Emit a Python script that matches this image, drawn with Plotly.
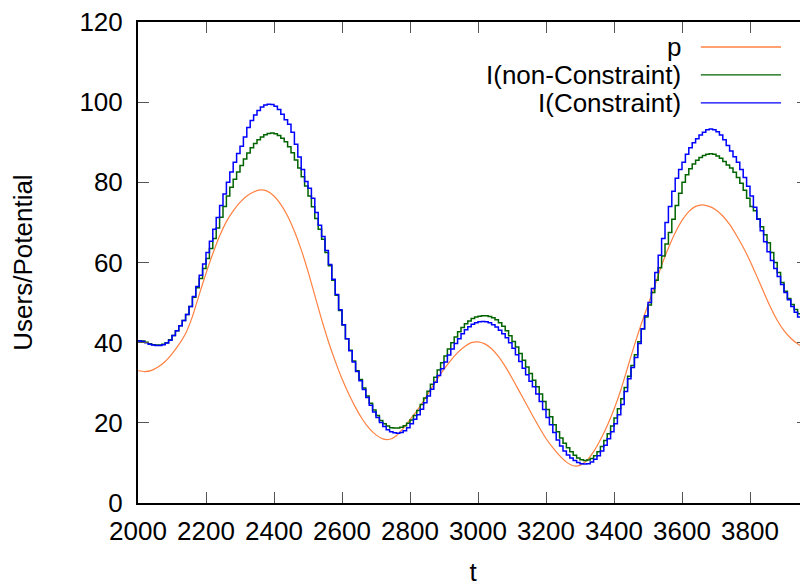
import plotly.graph_objects as go

# ---- data ----
p_t = list(range(2000, 4000, 20))
p_vals = [33.0, 32.8, 33.1, 34.0, 35.3, 37.2, 39.5, 42.3, 46.5, 52.0,
          57.3, 62.2, 66.6, 70.2, 72.9, 75.0, 76.6, 77.6, 78.1, 77.8,
          76.6, 74.5, 71.6, 67.8, 63.2, 57.8, 51.8, 45.8, 40.3, 35.4,
          31.0, 27.2, 23.8, 20.9, 18.6, 17.0, 16.0, 15.9, 16.8, 18.6,
          20.8, 23.0, 25.5, 28.2, 30.9, 33.4, 35.6, 37.5, 39.0, 40.0,
          40.2, 39.7, 38.5, 36.6, 34.1, 31.2, 28.1, 25.0, 21.9, 18.9,
          16.1, 13.8, 11.8, 10.2, 9.3, 9.4, 10.6, 12.8, 15.8, 19.3,
          23.4, 28.2, 33.8, 39.4, 44.6, 49.4, 54.2, 59.3, 63.6, 67.4,
          70.5, 72.7, 74.0, 74.4, 74.0, 73.1, 71.6, 69.5, 66.8, 63.8,
          60.4, 56.6, 52.7, 48.9, 45.6, 43.0, 41.1, 39.7, 38.8, 38.4]

i_t = list(range(2000, 3980, 10))
i_nc = [40.5, 40.4, 40.1, 39.7, 39.5, 39.4, 39.4, 39.6, 40.0, 40.7,
        41.8, 43.0, 44.2, 45.5, 47.0, 49.0, 51.3, 53.7, 56.0, 58.5,
        61.0, 63.5, 66.0, 68.6, 71.3, 74.0, 76.6, 78.8, 80.8, 82.6,
        84.2, 85.8, 87.3, 88.6, 89.7, 90.6, 91.3, 91.9, 92.2, 92.3,
        92.1, 91.7, 91.0, 90.1, 88.9, 87.4, 85.6, 83.6, 81.4, 79.1,
        76.6, 73.9, 71.0, 68.3, 65.8, 62.5, 59.2, 55.6, 51.8, 48.0,
        44.4, 41.0, 38.1, 35.4, 33.0, 30.8, 28.7, 26.7, 24.9, 23.2,
        21.8, 20.6, 19.8, 19.2, 18.8, 18.7, 18.7, 18.9, 19.3, 19.9,
        20.7, 21.8, 23.1, 24.6, 26.2, 27.9, 29.6, 31.4, 33.2, 35.0,
        36.7, 38.4, 40.0, 41.4, 42.7, 43.8, 44.7, 45.4, 46.0, 46.4,
        46.6, 46.7, 46.7, 46.5, 46.2, 45.7, 45.0, 44.1, 43.0, 41.7,
        40.3, 38.9, 37.3, 35.6, 33.9, 32.3, 30.6, 29.0, 27.2, 25.3,
        23.3, 21.5, 19.5, 17.8, 16.2, 14.9, 13.8, 12.8, 11.9, 11.2,
        10.8, 10.6, 10.7, 11.1, 11.8, 12.8, 14.1, 15.6, 17.3, 19.2,
        21.2, 23.5, 26.0, 28.8, 31.6, 34.3, 37.0, 40.2, 43.4, 46.4,
        49.4, 52.5, 55.6, 58.7, 61.6, 64.6, 67.5, 70.8, 74.2, 77.3,
        80.0, 81.9, 83.4, 84.6, 85.5, 86.2, 86.7, 87.0, 87.1, 87.0,
        86.6, 86.0, 85.2, 84.3, 83.6, 82.5, 81.2, 79.8, 78.0, 76.0,
        74.0, 72.9, 70.9, 68.9, 66.9, 64.9, 62.5, 60.0, 57.5, 55.0,
        52.8, 51.0, 49.5, 48.3, 47.2, 46.3, 45.6, 45.0]
i_c = [40.4, 40.3, 40.0, 39.6, 39.4, 39.3, 39.3, 39.5, 39.9, 40.6,
       41.8, 43.0, 44.2, 45.5, 47.0, 49.0, 51.5, 54.0, 56.8, 59.6,
       62.5, 65.3, 68.3, 71.2, 74.2, 77.1, 80.0, 82.6, 85.0, 87.2,
       89.0, 91.3, 93.7, 95.4, 96.8, 97.9, 98.8, 99.3, 99.5, 99.4,
       99.0, 98.2, 97.0, 95.6, 94.5, 92.5, 89.5, 86.3, 83.2, 80.2,
       78.5, 76.0, 72.5, 69.3, 66.5, 63.0, 59.5, 55.8, 52.0, 48.2,
       44.5, 41.0, 38.0, 35.2, 32.8, 30.5, 28.3, 26.3, 24.4, 22.7,
       21.3, 20.1, 19.1, 18.3, 17.8, 17.5, 17.4, 17.6, 18.0, 18.8,
       19.8, 20.9, 22.0, 23.4, 25.0, 26.7, 28.4, 30.1, 31.8, 33.5,
       35.2, 36.9, 38.4, 39.8, 41.0, 42.2, 43.2, 44.0, 44.6, 45.0,
       45.2, 45.3, 45.2, 45.0, 44.5, 43.9, 43.1, 42.2, 41.2, 40.0,
       38.6, 37.0, 35.3, 33.6, 32.0, 30.4, 29.0, 27.2, 25.3, 23.3,
       21.3, 19.5, 17.6, 15.7, 14.2, 13.0, 12.0, 11.2, 10.6, 10.1,
       9.8, 9.7, 9.8, 10.2, 10.9, 11.8, 13.0, 14.4, 16.0, 17.8,
       19.8, 22.0, 24.6, 27.8, 31.0, 33.8, 36.3, 39.8, 43.5, 46.7,
       50.0, 53.5, 57.5, 61.8, 66.0, 70.0, 74.0, 77.8, 81.0, 83.2,
       85.0, 87.0, 88.6, 89.9, 90.9, 91.8, 92.5, 93.1, 93.3, 93.1,
       92.6, 91.8, 90.6, 89.2, 87.8, 86.4, 85.0, 83.2, 81.2, 79.0,
       76.6, 73.8, 70.8, 67.9, 65.2, 62.7, 60.5, 58.5, 56.5, 54.5,
       52.5, 50.7, 49.0, 47.6, 46.4, 45.4, 44.6, 44.0]

series_names = ["p", "I(non-Constraint)", "I(Constraint)"]
series_colors = ["#ff8040", "#006400", "#0000ff"]
x_ticks = list(range(2000, 4000, 200))
y_ticks = list(range(0, 121, 20))

FONT = "Liberation Sans, Arial, sans-serif"
FS = 26

fig = go.Figure()
fig.add_trace(go.Scatter(x=p_t, y=p_vals, mode="lines", name=series_names[0],
                         line=dict(color=series_colors[0], width=1.2, shape="spline", smoothing=0.6)))
fig.add_trace(go.Scatter(x=i_t, y=i_nc, mode="lines", name=series_names[1],
                         line=dict(color=series_colors[1], width=1.5, shape="hv")))
fig.add_trace(go.Scatter(x=i_t, y=i_c, mode="lines", name=series_names[2],
                         line=dict(color=series_colors[2], width=1.5, shape="hv")))

# gnuplot-style legend: right-aligned text with sample line to its right
leg_y = [0.948, 0.890, 0.832]
for name, col, yy in zip(series_names, series_colors, leg_y):
    fig.add_annotation(xref="paper", yref="paper", x=0.8134, y=yy, text=name,
                       showarrow=False, xanchor="right", yanchor="middle",
                       font=dict(family=FONT, size=FS, color="black"))
    fig.add_shape(type="line", xref="paper", yref="paper", x0=0.840, x1=0.9597,
                  y0=yy, y1=yy, line=dict(color=col, width=1.3))

axis_common = dict(showgrid=False, zeroline=False, showline=True, linecolor="black",
                   linewidth=2, mirror="ticks", ticks="inside", ticklen=11,
                   tickwidth=1, tickcolor="#555555", ticklabeloverflow="allow",
                   tickfont=dict(family=FONT, size=FS, color="black"))
fig.update_xaxes(range=[2000, 3970.6], tickvals=x_ticks, ticklabelstandoff=4,
                 title=dict(text="t", font=dict(family=FONT, size=FS, color="black"), standoff=18),
                 **axis_common)
fig.update_yaxes(range=[0, 120], tickvals=y_ticks, ticklabelstandoff=8,
                 title=dict(text="Users/Potential", font=dict(family=FONT, size=FS, color="black"), standoff=40),
                 **axis_common)
fig.update_layout(width=800, height=580, showlegend=False,
                  margin=dict(l=130, r=0, t=14, b=85, autoexpand=False),
                  plot_bgcolor="white", paper_bgcolor="white")
fig.write_html("out.html")
